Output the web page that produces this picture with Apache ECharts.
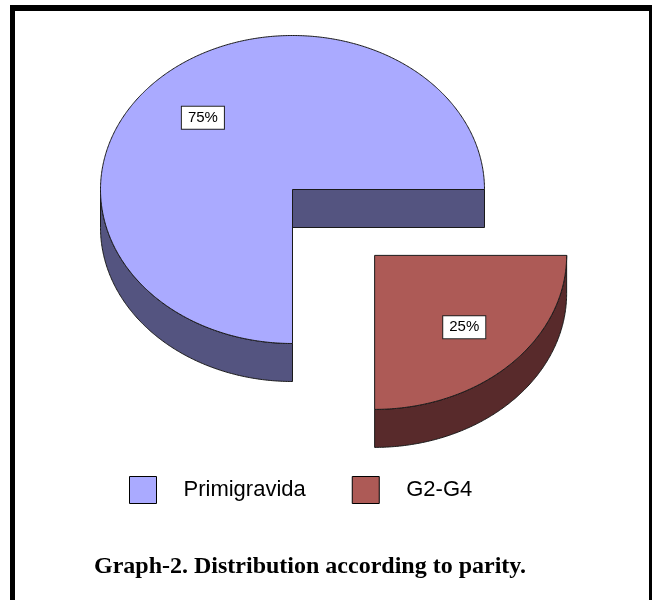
<!DOCTYPE html>
<html><head><meta charset="utf-8">
<script src="https://cdn.jsdelivr.net/npm/echarts@6/dist/echarts.min.js"></script>
<style>html,body{margin:0;padding:0;background:#fff}#c{width:652px;height:600px}</style>
</head><body><div id="c"></div>
<script>
// ---- data ----
const categories = ['Primigravida', 'G2-G4'];
const values = [75, 25];
const explode = [0, 0.605];
const titleText = 'Graph-2. Distribution according to parity.';

// ---- style / layout ----
const topColors = ['#AAAAFF', '#AD5A56'];
const sideColors = ['#545480', '#582A2B'];
const CX = 292.5, CY = 189.5, RX = 192, RY = 154, DEPTH = 38;
const LABEL_R = 0.66;

const total = values.reduce((a, b) => a + b, 0);
const angles = [];
(function () {
  let acc = 0;
  values.forEach(v => {
    const a0 = acc / total * 2 * Math.PI;
    acc += v;
    angles.push([a0, acc / total * 2 * Math.PI]);
  });
})();

function pt(a, ox, oy, dz) {
  return [CX + ox + RX * Math.cos(a), CY + oy - RY * Math.sin(a) + dz];
}
function arc(a, b, ox, oy, dz) {
  const n = Math.max(2, Math.ceil(Math.abs(b - a) / (Math.PI / 360)));
  const pts = [];
  for (let k = 0; k <= n; k++) pts.push(pt(a + (b - a) * k / n, ox, oy, dz));
  return pts;
}

function makeRender(i) {
  return function (params, api) {
    const [a0, a1] = angles[i];
    const mid = (a0 + a1) / 2;
    const ox = explode[i] * RX * Math.cos(mid);
    const oy = -explode[i] * RY * Math.sin(mid);
    const line = { stroke: '#1a1a1a', lineWidth: 1, lineJoin: 'round' };
    const c = [CX + ox, CY + oy];
    const children = [];
    function face(a) {
      const p = pt(a, ox, oy, 0);
      return { type: 'polygon', shape: { points: [c, p, [p[0], p[1] + DEPTH], [c[0], c[1] + DEPTH]] },
        style: Object.assign({ fill: sideColors[i] }, line) };
    }
    if (Math.cos(a0) > 1e-6) children.push(face(a0));
    if (Math.cos(a1) < -1e-6) children.push(face(a1));
    const s = Math.max(a0, Math.PI), e = Math.min(a1, 2 * Math.PI);
    if (e > s) {
      const pts = arc(s, e, ox, oy, 0).concat(arc(e, s, ox, oy, DEPTH));
      children.push({ type: 'polygon', shape: { points: pts }, style: Object.assign({ fill: sideColors[i] }, line) });
    }
    children.push({ type: 'polygon', shape: { points: [c].concat(arc(a0, a1, ox, oy, 0)) },
      style: Object.assign({ fill: topColors[i] }, line) });
    const lp = [c[0] + LABEL_R * RX * Math.cos(mid), c[1] - LABEL_R * RY * Math.sin(mid)];
    children.push({ type: 'text', x: lp[0], y: lp[1], z2: 10,
      style: { text: Math.round(values[i] / total * 100) + '%', align: 'center', verticalAlign: 'middle',
        font: '15px "Liberation Sans", Arial, sans-serif', fill: '#000', backgroundColor: '#fff',
        borderColor: '#222', borderWidth: 1, padding: [4, 6, 3, 6] } });
    return { type: 'group', children };
  };
}

const chart = echarts.init(document.getElementById('c'), null, { renderer: 'canvas' });
chart.setOption({
  animation: false,
  backgroundColor: '#fff',
  title: {
    text: titleText, left: 94, top: 555, padding: 0,
    textStyle: { fontFamily: '"Liberation Serif", "Times New Roman", serif', fontWeight: 'bold', fontSize: 24, color: '#000' }
  },
  legend: {
    data: categories, left: 129, top: 476, padding: 0, itemWidth: 27, itemHeight: 27, icon: 'rect',
    itemGap: 46, selectedMode: false,
    itemStyle: { borderColor: '#000', borderWidth: 1 },
    textStyle: { fontFamily: '"Liberation Sans", Arial, sans-serif', fontSize: 22, color: '#000', padding: [0, 0, 0, 22] }
  },
  graphic: [
    { type: 'rect', shape: { x: 10, y: 5, width: 642, height: 6 }, style: { fill: '#000' } },
    { type: 'rect', shape: { x: 10, y: 5, width: 5, height: 595 }, style: { fill: '#000' } },
    { type: 'rect', shape: { x: 649, y: 6, width: 3, height: 594 }, style: { fill: '#000' } }
  ],
  series: categories.map((name, i) => ({
    type: 'custom', name: name, coordinateSystem: 'none',
    itemStyle: { color: topColors[i] },
    renderItem: makeRender(i),
    data: [values[i]],
    silent: true
  }))
});
</script>
</body></html>
